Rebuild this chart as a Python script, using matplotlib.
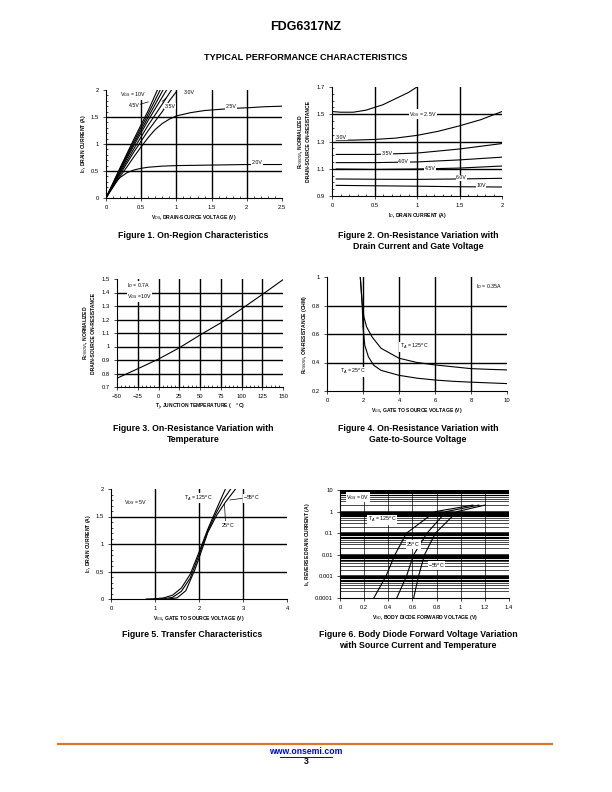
import matplotlib
matplotlib.use("Agg")
import matplotlib.pyplot as plt
from matplotlib.ticker import FixedLocator, MultipleLocator, NullFormatter
from matplotlib.lines import Line2D

plt.rcParams["font.family"] = ["Liberation Sans", "DejaVu Sans"]

# ---- Figure 1: on-region characteristics ----
f1_curves = {
    "10V": ([0, 0.2, 0.4, 0.6, 0.73], [0, 0.56, 1.1, 1.62, 2.0]),
    "6.0V": ([0, 0.2, 0.4, 0.6, 0.77], [0, 0.54, 1.06, 1.56, 2.0]),
    "4.5V": ([0, 0.2, 0.4, 0.6, 0.81], [0, 0.52, 1.02, 1.5, 2.0]),
    "4.0V": ([0, 0.2, 0.4, 0.6, 0.8, 0.86], [0, 0.5, 0.98, 1.44, 1.87, 2.0]),
    "3.5V": ([0, 0.2, 0.4, 0.6, 0.8, 0.93], [0, 0.47, 0.92, 1.35, 1.74, 2.0]),
    "3.0V": ([0, 0.2, 0.4, 0.6, 0.8, 0.9, 1.0], [0, 0.44, 0.86, 1.25, 1.6, 1.8, 1.97]),
    "2.5V": ([0, 0.1, 0.2, 0.3, 0.4, 0.5, 0.6, 0.7, 0.8, 0.9, 1.0, 1.2, 1.4, 1.6, 1.8, 2.0, 2.25, 2.5],
             [0, 0.2, 0.4, 0.58, 0.77, 0.95, 1.12, 1.27, 1.38, 1.46, 1.52, 1.58, 1.62, 1.64, 1.66, 1.67, 1.69, 1.7]),
    "2.0V": ([0, 0.05, 0.1, 0.15, 0.2, 0.3, 0.4, 0.5, 0.6, 0.8, 1.0, 1.5, 2.0, 2.5],
             [0, 0.12, 0.22, 0.31, 0.38, 0.47, 0.52, 0.55, 0.57, 0.59, 0.6, 0.61, 0.62, 0.62]),
}

# ---- Figure 2: normalized RDS(on) vs drain current ----
f2_curves = {
    "2.5V": ([0, 0.1, 0.25, 0.4, 0.5, 0.6, 0.7, 0.8, 0.9, 1.0], [1.52, 1.515, 1.515, 1.53, 1.55, 1.57, 1.6, 1.63, 1.66, 1.7]),
    "3.0V": ([0.05, 0.25, 0.5, 0.75, 1.0, 1.25, 1.5, 1.75, 2.0], [1.31, 1.31, 1.315, 1.325, 1.345, 1.375, 1.415, 1.46, 1.52]),
    "3.5V": ([0.05, 0.5, 1.0, 1.5, 2.0], [1.205, 1.205, 1.215, 1.245, 1.285]),
    "4.0V": ([0.05, 0.5, 1.0, 1.5, 2.0], [1.145, 1.145, 1.15, 1.165, 1.185]),
    "4.5V": ([0.05, 0.5, 1.0, 1.5, 2.0], [1.098, 1.095, 1.098, 1.105, 1.12]),
    "6.0V": ([0.05, 0.5, 1.0, 1.5, 2.0], [1.025, 1.023, 1.022, 1.025, 1.03]),
    "10V": ([0.05, 0.5, 1.0, 1.5, 2.0], [0.978, 0.975, 0.972, 0.968, 0.966]),
}

# ---- Figure 3: normalized RDS(on) vs temperature ----
f3_temp = [-50, -25, 0, 25, 50, 75, 100, 125, 150]
f3_rds = [0.765, 0.835, 0.907, 0.99, 1.085, 1.175, 1.278, 1.385, 1.495]

# ---- Figure 4: RDS(on) vs gate voltage ----
f4_v125 = [1.85, 1.95, 2.05, 2.2, 2.5, 3, 4, 5, 6, 7, 8, 9, 10]
f4_r125 = [1.0, 0.82, 0.72, 0.65, 0.58, 0.5, 0.43, 0.4, 0.383, 0.37, 0.357, 0.352, 0.348]
f4_v25 = [1.85, 1.95, 2.0, 2.1, 2.3, 2.6, 3, 4, 5, 6, 7, 8, 9, 10]
f4_r25 = [1.0, 0.82, 0.65, 0.52, 0.44, 0.38, 0.345, 0.31, 0.29, 0.277, 0.268, 0.262, 0.257, 0.252]

# ---- Figure 5: transfer characteristics ----
f5_curves = {
    "125": ([0.8, 1.0, 1.2, 1.4, 1.6, 1.8, 2.0, 2.2, 2.4, 2.6], [0, 0.005, 0.02, 0.07, 0.2, 0.45, 0.85, 1.27, 1.64, 2.0]),
    "25": ([1.0, 1.2, 1.4, 1.6, 1.8, 2.0, 2.2, 2.4, 2.55, 2.72], [0, 0.005, 0.03, 0.14, 0.38, 0.8, 1.24, 1.58, 1.8, 2.0]),
    "-55": ([1.3, 1.5, 1.7, 1.9, 2.0, 2.2, 2.4, 2.6, 2.83], [0, 0.02, 0.15, 0.52, 0.74, 1.21, 1.52, 1.76, 2.0]),
}

# ---- Figure 6: body diode forward voltage ----
f6_curves = {
    "125": ([0.28, 0.38, 0.455, 0.55, 0.79, 1.1], [1e-4, 1e-3, 1e-2, 1e-1, 1, 2]),
    "25": ([0.47, 0.55, 0.61, 0.72, 0.88, 1.15], [1e-4, 1e-3, 1e-2, 1e-1, 1, 2]),
    "-55": ([0.61, 0.65, 0.70, 0.79, 0.97, 1.2], [1e-4, 1e-3, 1e-2, 1e-1, 1, 2]),
}

W, H = 612, 792
fig = plt.figure(figsize=(6.12, 7.92), dpi=100)

TICK = 4.2
LAB = 3.6
TXT = 3.8
GRID_LW = 1.0
CURVE_LW = 0.8
WHITE = dict(facecolor="white", edgecolor="none", pad=0.3)


def box(l, t, r, b):
    ax = fig.add_axes([l / W, 1 - b / H, (r - l) / W, (b - t) / H])
    for s in ["top", "right"]:
        ax.spines[s].set_visible(False)
    for s in ["left", "bottom"]:
        ax.spines[s].set_linewidth(0.8)
    ax.tick_params(labelsize=TICK, length=2, width=0.5, pad=3, direction="out")
    ax.tick_params(which="minor", length=1.2, width=0.5, direction="in")
    return ax


def grid(ax, xs, ys, lw=GRID_LW):
    for x in xs:
        ax.axvline(x, color="black", lw=lw, zorder=1)
    for y in ys:
        ax.axhline(y, color="black", lw=lw, zorder=1)


def labels(ax, xl, yl, ypad=2):
    ax.set_xlabel(xl, fontsize=LAB, fontweight="bold", labelpad=2)
    ax.set_ylabel(yl, fontsize=LAB, fontweight="bold", labelpad=ypad, linespacing=1.3)


def note(ax, x, y, s, **kw):
    ax.text(x, y, s, fontsize=TXT, va="center", bbox=WHITE, zorder=5, **kw)


def caption(x, y, s):
    fig.text(x / W, 1 - y / H, s, fontsize=6.3, fontweight="bold", ha="center", va="top", linespacing=1.35)


# header
fig.text(306 / W, 1 - 27 / H, "FDG6317NZ", fontsize=9, fontweight="bold", ha="center", va="center")
fig.text(306 / W, 1 - 57 / H, "TYPICAL PERFORMANCE CHARACTERISTICS", fontsize=6.6, fontweight="bold",
         ha="center", va="center")

# Figure 1
ax = box(106, 90, 282, 198)
ax.set_xlim(0, 2.5)
ax.set_ylim(0, 2)
ax.set_xticks([0, 0.5, 1, 1.5, 2, 2.5])
ax.set_xticklabels(["0", "0.5", "1", "1.5", "2", "2.5"])
ax.set_yticks([0, 0.5, 1, 1.5, 2])
ax.set_yticklabels(["0", "0.5", "1", "1.5", "2"])
ax.yaxis.set_minor_locator(MultipleLocator(0.1))
ax.xaxis.set_minor_locator(MultipleLocator(0.1))
grid(ax, [0.5, 1, 1.5, 2], [0.5, 1, 1.5])
for name, (xs, ys) in f1_curves.items():
    ax.plot(xs, ys, color="black", lw=CURVE_LW, zorder=3, clip_on=True)
note(ax, 0.2, 1.91, "V$_{GS}$ = 10V")
note(ax, 0.32, 1.72, "4.5V")
ax.plot([0.47, 0.6], [1.73, 1.78], color="black", lw=0.5, zorder=4)
note(ax, 0.83, 1.7, "3.5V")
ax.plot([0.8, 0.86], [1.79, 1.86], color="black", lw=0.5, zorder=4)
note(ax, 1.1, 1.95, "3.0V")
note(ax, 1.7, 1.69, "2.5V")
note(ax, 2.07, 0.65, "2.0V")
labels(ax, "V$_{DS}$, DRAIN-SOURCE VOLTAGE (V)", "I$_D$, DRAIN CURRENT (A)")
caption(193, 231, "Figure 1. On-Region Characteristics")

# Figure 2
ax = box(332, 87, 502, 196)
ax.set_xlim(0, 2)
ax.set_ylim(0.9, 1.7)
ax.set_xticks([0, 0.5, 1, 1.5, 2])
ax.set_xticklabels(["0", "0.5", "1", "1.5", "2"])
ax.set_yticks([0.9, 1.1, 1.3, 1.5, 1.7])
ax.set_yticklabels(["0.9", "1.1", "1.3", "1.5", "1.7"])
ax.xaxis.set_minor_locator(MultipleLocator(0.1))
ax.yaxis.set_minor_locator(MultipleLocator(0.05))
grid(ax, [0.5, 1, 1.5], [1.1, 1.3, 1.5])
for name, (xs, ys) in f2_curves.items():
    ax.plot(xs, ys, color="black", lw=CURVE_LW, zorder=3)
note(ax, 0.91, 1.5, "V$_{GS}$ = 2.5V")
note(ax, 0.05, 1.33, "3.0V")
note(ax, 0.58, 1.215, "3.5V")
note(ax, 0.78, 1.155, "4.0V")
note(ax, 1.09, 1.1, "4.5V")
note(ax, 1.46, 1.035, "6.0V")
note(ax, 1.7, 0.975, "10V")
labels(ax, "I$_D$, DRAIN CURRENT (A)", "R$_{DS(ON)}$, NORMALIZED\nDRAIN-SOURCE ON-RESISTANCE", ypad=4)
caption(418, 231, "Figure 2. On-Resistance Variation with\nDrain Current and Gate Voltage")

# Figure 3
ax = box(117, 279, 283, 387)
ax.set_xlim(-50, 150)
ax.set_ylim(0.7, 1.5)
ax.set_xticks(list(range(-50, 151, 25)))
ax.set_xticklabels(["\u221250", "\u221225", "0", "25", "50", "75", "100", "125", "150"])
ax.set_yticks([0.7, 0.8, 0.9, 1.0, 1.1, 1.2, 1.3, 1.4, 1.5])
ax.set_yticklabels(["0.7", "0.8", "0.9", "1", "1.1", "1.2", "1.3", "1.4", "1.5"])
ax.xaxis.set_minor_locator(MultipleLocator(5))
grid(ax, [-25, 0, 25, 50, 75, 100, 125], [0.8, 0.9, 1.0, 1.1, 1.2, 1.3, 1.4])
ax.plot(f3_temp, f3_rds, color="black", lw=CURVE_LW, zorder=3)
note(ax, -38, 1.41, "I$_D$ = 0.7A\nV$_{GS}$ =10V", linespacing=1.4)
labels(ax, "T$_J$, JUNCTION TEMPERATURE (    $^o$C)", "R$_{DS(ON)}$, NORMALIZED\nDRAIN-SOURCE ON-RESISTANCE", ypad=4)
caption(193, 424, "Figure 3. On-Resistance Variation with\nTemperature")

# Figure 4
ax = box(327, 277, 507, 391)
ax.set_xlim(0, 10)
ax.set_ylim(0.2, 1.0)
ax.set_xticks([0, 2, 4, 6, 8, 10])
ax.set_xticklabels(["0", "2", "4", "6", "8", "10"])
ax.set_yticks([0.2, 0.4, 0.6, 0.8, 1.0])
ax.set_yticklabels(["0.2", "0.4", "0.6", "0.8", "1"])
grid(ax, [2, 4, 6, 8], [0.4, 0.6, 0.8])
ax.plot(f4_v125, f4_r125, color="black", lw=CURVE_LW, zorder=3)
ax.plot(f4_v25, f4_r25, color="black", lw=CURVE_LW, zorder=3)
note(ax, 4.05, 0.51, "T$_A$ = 125$^o$C")
note(ax, 0.75, 0.335, "T$_A$ = 25$^o$C")
note(ax, 8.3, 0.93, "I$_D$ = 0.35A")
labels(ax, "V$_{GS}$, GATE TO SOURCE VOLTAGE (V)", "R$_{DS(ON)}$, ON-RESISTANCE (OHM)")
caption(418, 424, "Figure 4. On-Resistance Variation with\nGate-to-Source Voltage")

# Figure 5
ax = box(111, 489, 287, 599)
ax.set_xlim(0, 4)
ax.set_ylim(0, 2)
ax.set_xticks([0, 1, 2, 3, 4])
ax.set_xticklabels(["0", "1", "2", "3", "4"])
ax.set_yticks([0, 0.5, 1, 1.5, 2])
ax.set_yticklabels(["0", "0.5", "1", "1.5", "2"])
ax.yaxis.set_minor_locator(MultipleLocator(0.1))
grid(ax, [1, 2, 3], [0.5, 1, 1.5])
for name, (xs, ys) in f5_curves.items():
    ax.plot(xs, ys, color="black", lw=CURVE_LW, zorder=3)
note(ax, 0.3, 1.75, "V$_{DS}$ = 5V")
note(ax, 1.65, 1.83, "T$_A$ = 125$^o$C")
note(ax, 3.0, 1.83, "\u221255$^o$C")
ax.plot([2.7, 2.98], [1.8, 1.83], color="black", lw=0.5, zorder=4)
note(ax, 2.5, 1.33, "25$^o$C")
ax.plot([2.58, 2.6], [1.72, 1.42], color="black", lw=0.5, zorder=4)
labels(ax, "V$_{GS}$, GATE TO SOURCE VOLTAGE (V)", "I$_D$, DRAIN CURRENT (A)")
caption(192, 630, "Figure 5. Transfer Characteristics")

# Figure 6
ax = box(340, 490, 509, 598)
ax.set_yscale("log")
ax.set_xlim(0, 1.4)
ax.set_ylim(1e-4, 10)
ax.set_xticks([0, 0.2, 0.4, 0.6, 0.8, 1.0, 1.2, 1.4])
ax.set_xticklabels(["0", "0.2", "0.4", "0.6", "0.8", "1", "1.2", "1.4"])
ax.yaxis.set_major_locator(FixedLocator([1e-4, 1e-3, 1e-2, 1e-1, 1, 10]))
ax.set_yticklabels(["0.0001", "0.001", "0.01", "0.1", "1", "10"])
ax.yaxis.set_minor_formatter(NullFormatter())
ax.tick_params(axis="y", which="minor", length=0)
grid(ax, [0.2, 0.4, 0.6, 0.8, 1.0, 1.2], [], lw=0.5)
for d in [1e-4, 1e-3, 1e-2, 1e-1, 1]:
    for k in range(2, 10):
        ax.axhline(d * k, color="black", lw=0.8 if k > 5 else 0.5, zorder=1)
    ax.axhline(d * 10, color="black", lw=1.8, zorder=1)
for name, (xs, ys) in f6_curves.items():
    ax.plot(xs, ys, color="black", lw=CURVE_LW, zorder=3)
note(ax, 0.05, 4.6, "V$_{GS}$ = 0V")
note(ax, 0.23, 0.42, "T$_A$ = 125$^o$C")
note(ax, 0.55, 0.03, "25$^o$C")
note(ax, 0.73, 0.0032, "\u221255$^o$C")
labels(ax, "V$_{SD}$, BODY DIODE FORWARD VOLTAGE (V)", "I$_S$, REVERSE DRAIN CURRENT (A)")
caption(418, 630, "Figure 6. Body Diode Forward Voltage Variation\nwith Source Current and Temperature")

# footer
fig.add_artist(Line2D([58 / W, 552 / W], [1 - 744 / H, 1 - 744 / H], color="#D9782D", lw=1.6))
fig.text(306 / W, 1 - 752 / H, "www.onsemi.com", fontsize=6.2, fontweight="bold", color="#0000EE",
         ha="center", va="center")
fig.add_artist(Line2D([280 / W, 332 / W], [1 - 757 / H, 1 - 757 / H], color="#0000EE", lw=0.7))
fig.text(306 / W, 1 - 762 / H, "3", fontsize=6.2, fontweight="bold", ha="center", va="center")

fig.savefig("out.png", dpi=100)
